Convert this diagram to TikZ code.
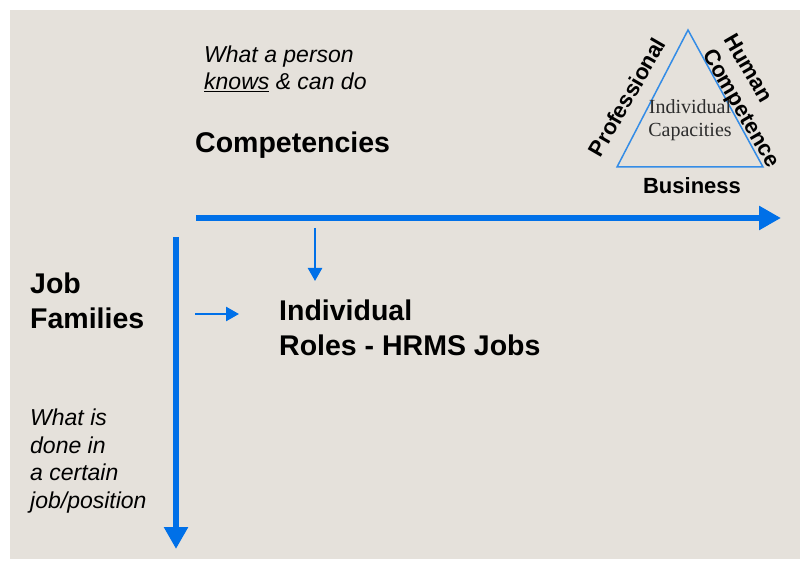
\documentclass[tikz,border=0pt]{standalone}
\usepackage{fontspec}
\setmainfont{Liberation Sans}
\newfontfamily\serifcap{Liberation Serif}
\usetikzlibrary{arrows.meta}
\definecolor{bg}{RGB}{229,225,219}
\definecolor{arrowblue}{RGB}{0,112,232}
\definecolor{triblue}{RGB}{52,140,230}
\definecolor{capgray}{RGB}{45,45,45}
\tikzset{
  bigarrow/.style={draw=arrowblue, line width=6pt, -{Triangle[length=22pt,width=23pt]}},
  smallarrow/.style={draw=arrowblue, line width=2.5pt, -{Triangle[length=13pt,width=14pt]}},
  bigtxt/.style={font=\fontsize{28.5}{35}\selectfont\bfseries, inner sep=0pt, align=left},
  itxt/.style={font=\fontsize{23}{27.5}\selectfont\itshape, inner sep=0pt, align=left},
  sidetxt/.style={font=\fontsize{22}{24}\selectfont\bfseries, inner sep=0pt},
}
\begin{document}
\begin{tikzpicture}[x=1pt,y=-1pt]
\useasboundingbox (0,0) rectangle (800,561);
\fill[white] (0,0) rectangle (800,561);
\fill[bg] (10,10) rectangle (800,559);

% axes
\coordinate (hs) at (196,218);
\coordinate (he) at (781,218);
\coordinate (vs) at (176,237);
\coordinate (ve) at (176,549);
\draw[bigarrow] (hs) -- (he);
\draw[bigarrow] (vs) -- (ve);

% texts (base anchor = baseline of last line)
\node[itxt, anchor=base west] (what) at (204,90) {What a person\\\underline{knows} \& can do};
\node[bigtxt, anchor=base west] (comp) at (195,153) {Competencies};
\node[bigtxt, anchor=base west] (job) at (30,328) {Job\\Families};
\node[bigtxt, anchor=base west] (ind) at (279,355) {Individual\\Roles - HRMS Jobs};
\node[itxt, anchor=base west] (done) at (30,508) {What is\\done in\\a certain\\job/position};

% small arrows
\coordinate (da) at (315,228);
\coordinate (db) at (315,281);
\draw[smallarrow] (da) -- (db);
\coordinate (ra) at (195,314);
\coordinate (rb) at (239,314);
\draw[smallarrow] (ra) -- (rb);

% triangle
\coordinate (tA) at (688,30);
\coordinate (tL) at (617,167);
\coordinate (tR) at (763,167);
\draw[triblue, line width=1.5pt, line join=miter] (tA) -- (tL) -- (tR) -- cycle;
\node[font=\serifcap\fontsize{20}{23}\selectfont, text=capgray, align=center, inner sep=0pt] (cap) at (690,120) {Individual\\Capacities};
\node[sidetxt, rotate=60] (prof) at (627,97) {Professional};
\node[sidetxt, rotate=-60] (human) at (749,68) {Human};
\node[sidetxt, rotate=-60] (compt) at (740,109) {Competence};
\node[sidetxt] (bus) at (692,186) {Business};
\end{tikzpicture}
\end{document}
